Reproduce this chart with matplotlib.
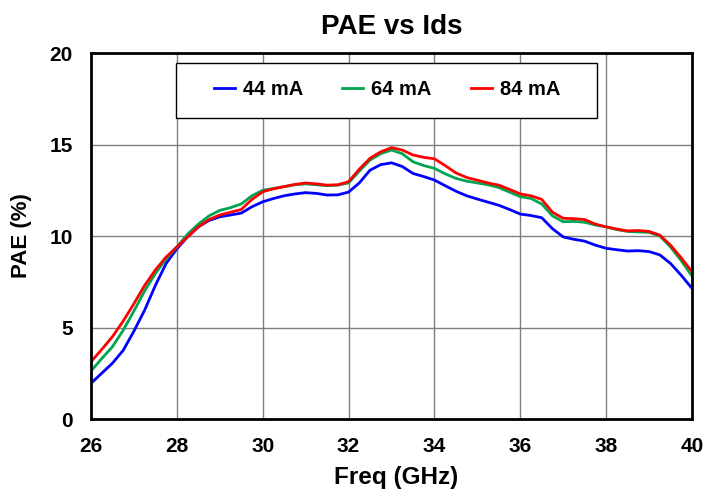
import numpy as np
import matplotlib.pyplot as plt
from matplotlib.patches import Rectangle

plt.rcParams['font.family'] = ['Liberation Sans', 'DejaVu Sans']
plt.rcParams['font.weight'] = 'bold'

freq = np.arange(26.0, 40.01, 0.25)

pae_44 = [1.95, 2.5, 3.05, 3.75, 4.8, 5.95, 7.3, 8.5, 9.3, 9.95,
          10.5, 10.85, 11.05, 11.15, 11.25, 11.6, 11.87, 12.05, 12.2, 12.3,
          12.37, 12.33, 12.24, 12.25, 12.4, 12.9, 13.6, 13.9, 14.0, 13.8,
          13.42, 13.25, 13.06, 12.75, 12.45, 12.2, 12.02, 11.85, 11.68, 11.45,
          11.2, 11.12, 11.0, 10.4, 9.95, 9.82, 9.72, 9.5, 9.33, 9.25,
          9.18, 9.2, 9.15, 8.97, 8.5, 7.85, 7.14]
pae_64 = [2.62, 3.3, 3.95, 4.85, 5.9, 7.0, 7.95, 8.75, 9.4, 10.1,
          10.65, 11.1, 11.4, 11.55, 11.75, 12.2, 12.5, 12.6, 12.7, 12.8,
          12.85, 12.8, 12.75, 12.78, 12.9, 13.55, 14.15, 14.5, 14.7, 14.5,
          14.06, 13.85, 13.7, 13.4, 13.15, 13.0, 12.9, 12.8, 12.65, 12.4,
          12.15, 12.05, 11.75, 11.1, 10.78, 10.8, 10.75, 10.6, 10.5, 10.35,
          10.25, 10.22, 10.2, 10.0, 9.4, 8.65, 7.81]
pae_84 = [3.13, 3.8, 4.5, 5.35, 6.3, 7.3, 8.15, 8.85, 9.4, 9.95,
          10.5, 10.9, 11.15, 11.3, 11.45, 12.0, 12.42, 12.58, 12.7, 12.82,
          12.9, 12.85, 12.78, 12.8, 12.97, 13.65, 14.25, 14.6, 14.83, 14.7,
          14.43, 14.3, 14.22, 13.85, 13.45, 13.2, 13.05, 12.9, 12.78, 12.55,
          12.3, 12.2, 12.0, 11.3, 10.97, 10.95, 10.9, 10.65, 10.5, 10.38,
          10.28, 10.3, 10.25, 10.05, 9.5, 8.8, 8.05]

labels = ['44 mA', '64 mA', '84 mA']
colors = ['#0000ff', '#00a550', '#ff0000']

fig = plt.figure(figsize=(7.18, 4.91), dpi=100)
ax = fig.add_axes([0.1267, 0.1466, 0.8371, 0.7454])

for y, lab, c in zip([pae_44, pae_64, pae_84], labels, colors):
    ax.plot(freq, y, color=c, lw=2, label=lab)

ax.set_xlim(26, 40)
ax.set_ylim(0, 20)
ax.set_xticks(np.arange(26, 41, 2))
ax.set_yticks(np.arange(0, 21, 5))
ax.grid(True, color='#7f7f7f', lw=1)
ax.tick_params(length=0, labelsize=15, pad=13)
for s in ax.spines.values():
    s.set_linewidth(2)
    s.set_color('black')

fig.text(0.545, 0.945, 'PAE vs Ids', fontsize=20, fontweight='bold', ha='center', va='center')
ax.set_xlabel('Freq (GHz)', fontsize=17.5, fontweight='bold', va='center')
ax.set_ylabel('PAE (%)', fontsize=16, fontweight='bold', va='center')
ax.xaxis.set_label_coords(0.507, -0.16)
ax.yaxis.set_label_coords(-0.115, 0.5)

# boxed legend, entries centred in the box
ax.add_patch(Rectangle((0.1414, 0.8224), 0.7005, 0.150, transform=ax.transAxes,
                       facecolor='white', edgecolor='black', lw=1, zorder=4))
leg = ax.legend(ncol=3, loc='center', bbox_to_anchor=(0.4925, 0.899),
                fontsize=14.5, frameon=False, borderpad=0, borderaxespad=0,
                handlelength=1.05, handletextpad=0.4, columnspacing=1.94)
leg.set_zorder(5)

fig.savefig('out.png', dpi=100)
